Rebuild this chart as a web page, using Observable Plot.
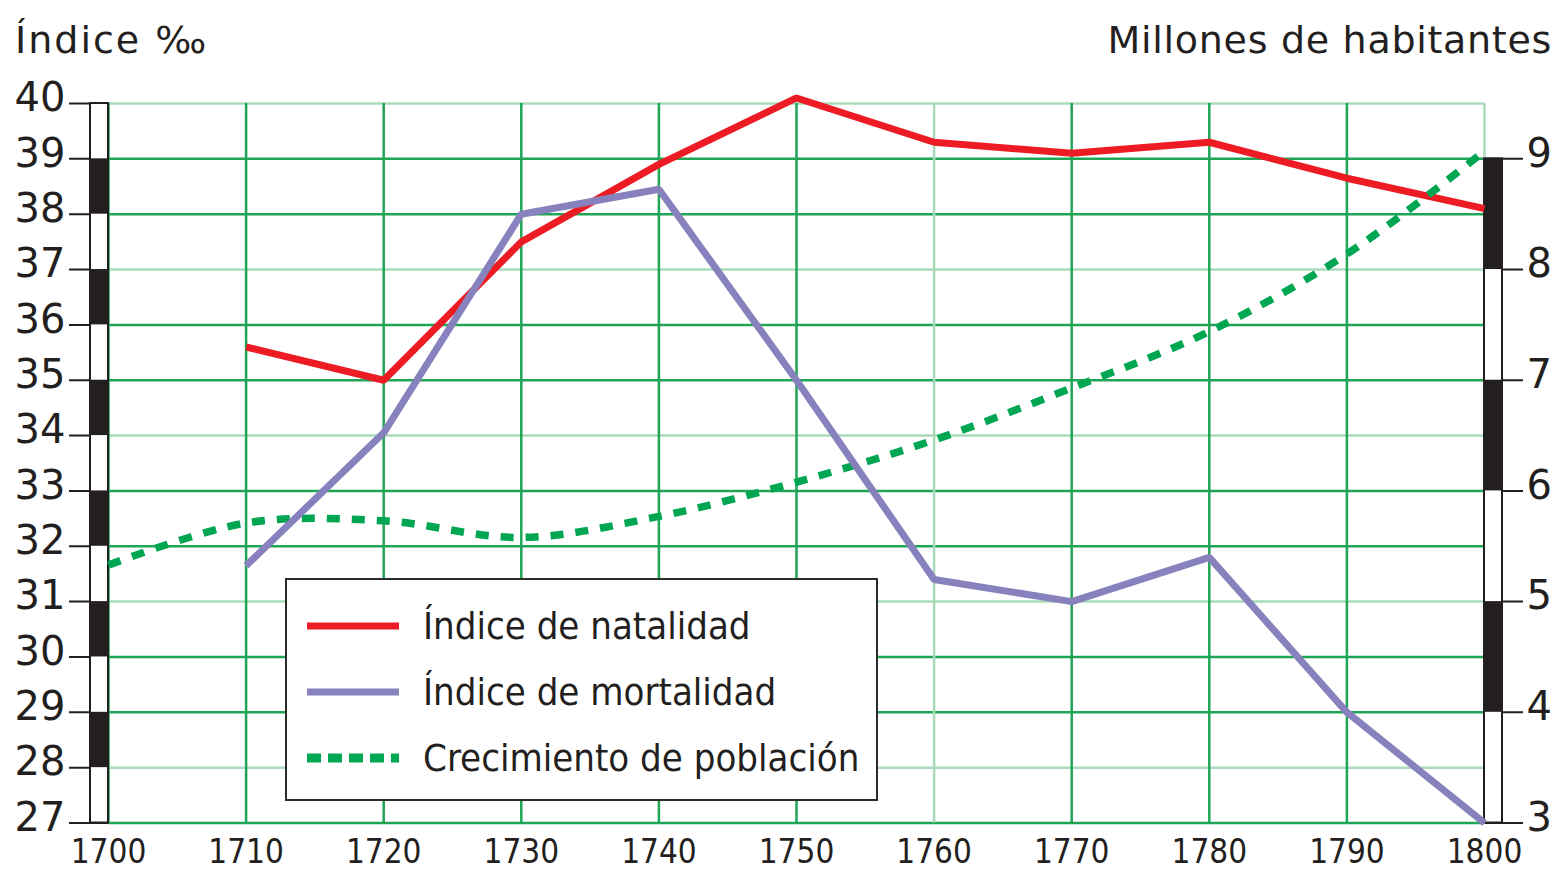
<!DOCTYPE html>
<html>
<head>
<meta charset="utf-8">
<script src="https://cdn.jsdelivr.net/npm/d3@7"></script>
<script src="https://cdn.jsdelivr.net/npm/@observablehq/plot@0.6"></script>
<style>
  html, body { margin: 0; padding: 0; background: #fff; }
  #wrap { position: relative; width: 1559px; height: 869px; font-family: "DejaVu Sans", sans-serif; color: #231f20; }
  .title { position: absolute; top: 21px; font-size: 38px; line-height: 38px; white-space: nowrap; }
  #legend { position: absolute; left: 285px; top: 578px; width: 593px; height: 223px; box-sizing: border-box;
            border: 2px solid #2b2b2b; background: #fff; }
  .row { position: absolute; left: 20px; height: 40px; display: flex; align-items: center; }
  .row svg { width: 92px; height: 12px; }
  .row span { position: absolute; left: 116px; font-family: "DejaVu Sans Condensed", "DejaVu Sans", sans-serif;
              font-size: 38px; white-space: nowrap; line-height: 40px; top: 0px; }
</style>
</head>
<body>
<div id="wrap">
  <div id="chart"></div>
  <div class="title" id="tl" style="left:15px; letter-spacing:2px;"></div>
  <div class="title" id="tr" style="right:7px; letter-spacing:0.7px;"></div>
  <div id="legend"></div>
</div>
<script>
// ---- data ----
const years = [1700, 1710, 1720, 1730, 1740, 1750, 1760, 1770, 1780, 1790, 1800];
const natalidad = [null, 35.6, 35.0, 37.5, 38.9, 40.1, 39.3, 39.1, 39.3, 38.65, 38.1];
const mortalidad = [null, 31.65, 34.05, 38.0, 38.45, 35.0, 31.4, 31.0, 31.8, 29.0, 27.0];
const poblacion = [5.33, 5.71, 5.73, 5.58, 5.77, 6.08, 6.46, 6.93, 7.44, 8.14, 9.07];
const indiceTicks = [27, 28, 29, 30, 31, 32, 33, 34, 35, 36, 37, 38, 39, 40];
const poblacionTicks = [3, 4, 5, 6, 7, 8, 9];
const seriesNames = ["Índice de natalidad", "Índice de mortalidad", "Crecimiento de población"];
const leftTitle = "Índice ‰";
const rightTitle = "Millones de habitantes";

// ---- styles ----
const RED = "#ed1c24", PURPLE = "#8781bd", GREEN = "#00a651";
const GRID = "#1fa556", GRID_LIGHT = "#a9dbbb";

// population (3..9.5) mapped onto the index scale (27..40)
const popToIdx = p => 27 + (p - 3) * 2;
const idxToPop = v => 3 + (v - 27) / 2;

const nat = years.map((y, i) => ({year: y, v: natalidad[i]})).filter(d => d.v != null);
const mor = years.map((y, i) => ({year: y, v: mortalidad[i]})).filter(d => d.v != null);
const pop = years.map((y, i) => ({year: y, v: popToIdx(poblacion[i])}));

const lightY = indiceTicks.filter(v => (40 - v) % 3 === 0);
const darkY = indiceTicks.filter(v => (40 - v) % 3 !== 0);
const lightX = years.filter(y => y === 1760 || y === 1800);
const darkX = years.filter(y => y !== 1760 && y !== 1800);

const leftCells = indiceTicks.filter(v => v < 40 && (v - 27) % 2 === 1).map(v => ({y1: v, y2: v + 1, x: years[0]}));
const rightCells = poblacionTicks.filter(p => p < 9 && (p - 3) % 2 === 1).map(p => ({y1: popToIdx(p), y2: popToIdx(p + 1), x: years[years.length - 1]}));
const leftStrip = [{x: years[0], y1: indiceTicks[0], y2: indiceTicks[indiceTicks.length - 1]}];
const rightStrip = [{x: years[years.length - 1], y1: popToIdx(poblacionTicks[0]), y2: popToIdx(poblacionTicks[poblacionTicks.length - 1])}];

const chart = Plot.plot({
  width: 1559,
  height: 869,
  marginLeft: 108,
  marginRight: 75,
  marginTop: 103,
  marginBottom: 46.5,
  style: {fontFamily: "DejaVu Sans, sans-serif", color: "#231f20", background: "transparent", overflow: "visible"},
  x: {domain: [1700, 1800]},
  y: {domain: [27, 40]},
  marks: [
    // grid
    Plot.gridY(lightY, {stroke: GRID_LIGHT, strokeOpacity: 1, strokeWidth: 2.5}),
    Plot.gridY(darkY, {stroke: GRID, strokeOpacity: 1, strokeWidth: 2.5}),
    Plot.gridX(lightX, {stroke: GRID_LIGHT, strokeOpacity: 1, strokeWidth: 2.5}),
    Plot.gridX(darkX, {stroke: GRID, strokeOpacity: 1, strokeWidth: 2.5}),
    // left axis ticks + labels
    Plot.axisY({anchor: "left", ticks: indiceTicks, tickSize: 39, tickFormat: () => "", stroke: "#231f20", strokeWidth: 2}),
    Plot.axisY({anchor: "left", ticks: indiceTicks, tickSize: 0, tickPadding: 43, dy: -5, fontSize: 40, tickFormat: d => String(d), fill: "#231f20"}),
    // right axis ticks + labels
    Plot.axisY({anchor: "right", ticks: poblacionTicks.map(popToIdx), tickSize: 38, tickFormat: () => "", stroke: "#231f20", strokeWidth: 2}),
    Plot.axisY({anchor: "right", ticks: poblacionTicks.map(popToIdx), tickSize: 0, tickPadding: 42, dy: -5, fontSize: 40, tickFormat: d => String(idxToPop(d)), fill: "#231f20"}),
    // x axis labels
    Plot.axisX({ticks: years, tickSize: 0, tickPadding: 17, fontSize: 33, fontFamily: "DejaVu Sans Condensed, DejaVu Sans, sans-serif", tickFormat: d => String(d), fill: "#231f20"}),
    // strips
    Plot.rect(leftStrip, {x1: "x", x2: "x", y1: "y1", y2: "y2", insetLeft: -18, fill: "white"}),
    Plot.rect(leftCells, {x1: "x", x2: "x", y1: "y1", y2: "y2", insetLeft: -18, fill: "#231f20"}),
    Plot.rect(leftStrip, {x1: "x", x2: "x", y1: "y1", y2: "y2", insetLeft: -18, fill: "none", stroke: "#231f20", strokeWidth: 2}),
    Plot.rect(rightStrip, {x1: "x", x2: "x", y1: "y1", y2: "y2", insetRight: -18, fill: "white"}),
    Plot.rect(rightCells, {x1: "x", x2: "x", y1: "y1", y2: "y2", insetRight: -18, fill: "#231f20"}),
    Plot.rect(rightStrip, {x1: "x", x2: "x", y1: "y1", y2: "y2", insetRight: -18, fill: "none", stroke: "#231f20", strokeWidth: 2}),
    // series
    Plot.line(nat, {x: "year", y: "v", stroke: RED, strokeWidth: 7, strokeLinecap: "butt", strokeLinejoin: "miter"}),
    Plot.line(pop, {x: "year", y: "v", stroke: GREEN, strokeWidth: 7.5, strokeDasharray: "13,12", strokeLinecap: "butt", curve: "catmull-rom"}),
    Plot.line(mor, {x: "year", y: "v", stroke: PURPLE, strokeWidth: 7, strokeLinecap: "butt", strokeLinejoin: "miter"})
  ]
});
document.getElementById("chart").appendChild(chart);

document.getElementById("tl").textContent = leftTitle;
document.getElementById("tr").textContent = rightTitle;

// legend
const legend = document.getElementById("legend");
const swatches = [
  `<line x1="0" y1="6" x2="92" y2="6" stroke="${RED}" stroke-width="7"/>`,
  `<line x1="0" y1="6" x2="92" y2="6" stroke="${PURPLE}" stroke-width="7"/>`,
  `<line x1="0" y1="6" x2="92" y2="6" stroke="${GREEN}" stroke-width="9" stroke-dasharray="14,7"/>`
];
seriesNames.forEach((name, i) => {
  const row = document.createElement("div");
  row.className = "row";
  row.style.top = (26 + i * 66) + "px";
  row.innerHTML = `<svg viewBox="0 0 92 12">${swatches[i]}</svg><span>${name}</span>`;
  legend.appendChild(row);
});
</script>
</body>
</html>
